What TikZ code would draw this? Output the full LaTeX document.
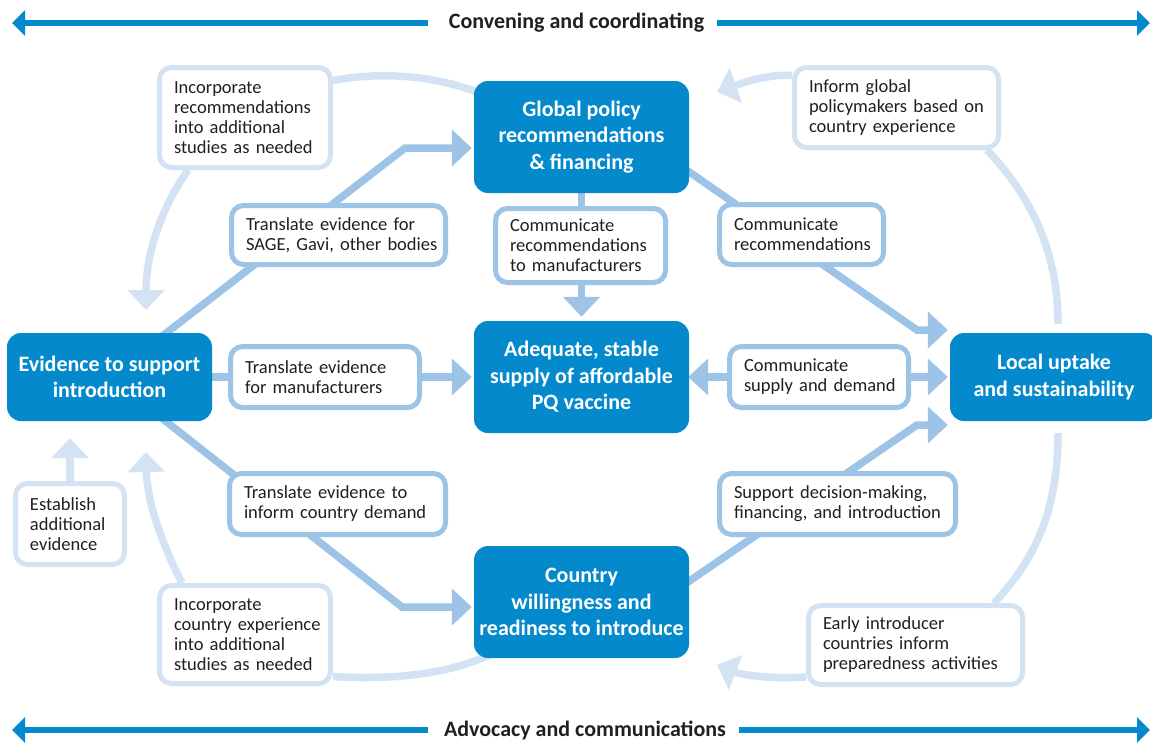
\documentclass[tikz,border=0pt]{standalone}
\usepackage{fontspec}
\setmainfont{Carlito}
\usetikzlibrary{arrows.meta}
\definecolor{dblue}{RGB}{4,137,204}
\definecolor{mblue}{RGB}{157,195,230}
\definecolor{lblue}{RGB}{212,227,244}
\definecolor{txt}{RGB}{35,31,32}
\pgfdeclarelayer{bg}
\pgfsetlayers{bg,main}
\hyphenpenalty=10000
\exhyphenpenalty=10000
\begin{document}
\begin{tikzpicture}[x=1pt,y=-1pt,
  dbox/.style={fill=dblue, rounded corners=14pt, minimum width=215pt, minimum height=112pt,
    text=white, font=\bfseries\fontsize{22}{26.5}\selectfont, align=center, inner sep=0pt},
  mbox/.style={draw=mblue, line width=5pt, fill=white, rounded corners=12pt, align=left,
    text=txt, font=\fontsize{18.5}{20}\selectfont, inner xsep=14.5pt, inner ysep=0pt},
  lbox/.style={mbox, draw=lblue},
  mconn/.style={draw=mblue, line width=7.5pt, shorten >=2pt, -{Triangle[length=20pt,width=36pt]}},
  lconn/.style={draw=lblue, line width=7.5pt},
  ltip/.style={lconn, -{Triangle[length=20pt,width=36pt]}},
  harrow/.style={draw=dblue, line width=6pt, -{Triangle[length=13pt,width=25pt]}},
  head/.style={font=\bfseries\fontsize{22}{26}\selectfont, text=txt, inner sep=0pt},
]
\useasboundingbox (0,0) rectangle (1152,744);
\begin{pgfonlayer}{bg}
\fill[white] (0,0) rectangle (1152,744);
\end{pgfonlayer}
\clip (0,0) rectangle (1152,744);

% headers
\node[head] (conv) at (576.5,23) {Convening and coordinating};
\node[head] (adv) at (585,730) {Advocacy and communications};
\coordinate (tl) at (12,23);
\coordinate (tr) at (1150,23);
\coordinate (bl) at (12,730);
\coordinate (br) at (1150,730);
\draw[harrow] ([xshift=-21pt]conv.west) -- (tl);
\draw[harrow] ([xshift=13pt]conv.east) -- (tr);
\draw[harrow] ([xshift=-16pt]adv.west) -- (bl);
\draw[harrow] ([xshift=13pt]adv.east) -- (br);

% main boxes
\node[dbox] (gp) at (581.5,137) {Global policy\\recommendations\\\& financing};
\node[dbox] (aq) at (581.5,377) {Adequate, stable\\supply of affordable\\PQ vaccine};
\node[dbox] (cw) at (581.5,602) {Country\\willingness and\\readiness to introduce};
\node[dbox, minimum width=205pt, minimum height=88pt] (ev) at (109.5,377) {Evidence to support\\introduction};
\node[dbox, minimum width=208pt, minimum height=88pt] (lu) at (1054,377) {Local uptake\\and sustainability};

% medium boxes
\node[mbox, minimum width=214pt, minimum height=59pt, text width=185pt] (t1) at (338.5,235) {Translate~evidence~for\\SAGE,~Gavi,~other~bodies};
\node[mbox, minimum width=170pt, minimum height=74pt, text width=141pt] (t2) at (580.5,245.5) {Communicate\\recommendations\\to~manufacturers};
\node[mbox, minimum width=164pt, minimum height=60pt, text width=135pt] (t3) at (801.5,234.5) {Communicate\\recommendations};
\node[mbox, minimum width=189pt, minimum height=61pt, text width=160pt] (t4) at (325,377) {Translate~evidence\\for~manufacturers};
\node[mbox, minimum width=179pt, minimum height=61pt, text width=150pt] (t5) at (819,377) {Communicate\\supply~and~demand};
\node[mbox, minimum width=216pt, minimum height=61pt, text width=187pt] (t6) at (337.5,504) {Translate~evidence~to\\inform~country~demand};
\node[mbox, minimum width=236pt, minimum height=61pt, text width=207pt] (t7) at (837.5,504) {Support~decision-making,\\financing,~and~introduction};

% light boxes
\node[lbox, minimum width=171pt, minimum height=100pt, text width=142pt] (l1) at (245,117.5) {Incorporate\\recommendations\\into~additional\\studies~as~needed};
\node[lbox, minimum width=204pt, minimum height=80pt, text width=175pt] (l2) at (896.5,107.5) {Inform~global\\policymakers~based~on\\country~experience};
\node[lbox, minimum width=109pt, minimum height=81pt, text width=80pt] (l3) at (70,524) {Establish\\additional\\evidence};
\node[lbox, minimum width=171pt, minimum height=98pt, text width=142pt] (l4) at (245,634.5) {Incorporate\\country~experience\\into~additional\\studies~as~needed};
\node[lbox, minimum width=214pt, minimum height=79pt, text width=185pt] (l5) at (915.5,645) {Early~introducer\\countries~inform\\preparedness~activities};

\coordinate (a2end) at (146,310);
\coordinate (a4end) at (717,92);
\coordinate (a6end) at (717,665);
\coordinate (a8end) at (146,452);
\coordinate (a9end) at (70,438);

\begin{pgfonlayer}{bg}
% medium connectors
\draw[mconn] (ev.center) -- (405,148) -- (gp.west |- 405,148);
\draw[mconn] (ev.center) -- (aq.west);
\draw[mconn] (ev.center) -- (402,607) -- (cw.west |- 402,607);
\draw[mconn, shorten >=4pt] (gp.center) -- (aq.north);
\draw[mconn] ([xshift=-10pt,yshift=-28pt]gp.east) -- (917,330) -- (lu.west |- 917,330);
\draw[mconn, {Triangle[length=20pt,width=36pt]}-{Triangle[length=20pt,width=36pt]}, shorten <=-1pt] (aq.east) -- (lu.west);
\draw[mconn] ([xshift=-10pt,yshift=14pt]cw.east) -- (917,425) -- (lu.west |- 917,425);
% light connectors
\draw[lconn] ([xshift=6pt,yshift=44pt]gp.west) .. controls (440,78) and (390,70) .. ([yshift=37pt]l1.east);
\draw[ltip] ([xshift=-57pt]l1.south) .. controls (160,210) and (146,255) .. (a2end);
\draw[lconn] ([xshift=4pt,yshift=9pt]lu.north) .. controls (1058,250) and (1030,195) .. ([xshift=-14pt]l2.south east);
\draw[ltip] ([yshift=32pt]l2.west) .. controls (765,74) and (740,84) .. (a4end);
\draw[lconn] ([xshift=4pt,yshift=-12pt]lu.south) .. controls (1058,510) and (1035,560) .. ([xshift=-31pt]l5.north east);
\draw[ltip] ([yshift=-32pt]l5.west) .. controls (775,679) and (745,676) .. (a6end);
\draw[lconn] ([xshift=21pt,yshift=6pt]cw.south west) .. controls (450,675) and (390,680) .. ([yshift=-42pt]l4.east);
\draw[ltip] ([xshift=-63pt]l4.north) .. controls (160,540) and (147,500) .. (a8end);
\draw[ltip] (l3.north) -- (a9end);
\end{pgfonlayer}
\end{tikzpicture}
\end{document}
